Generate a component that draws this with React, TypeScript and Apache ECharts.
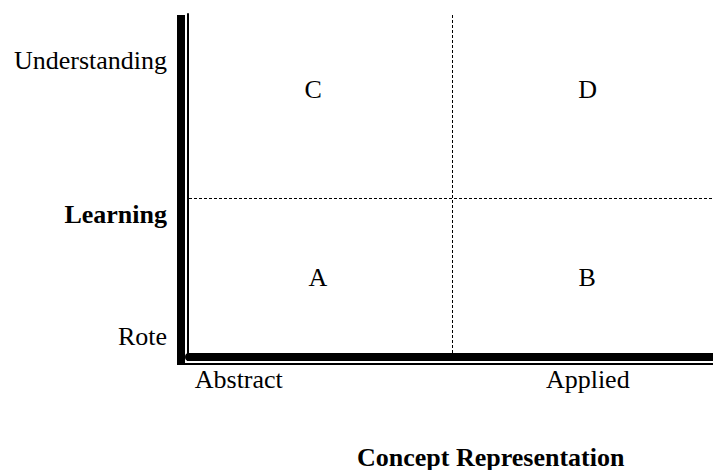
import React, { useEffect, useRef } from "react";
import * as echarts from "echarts";

// Quadrant letters and their positions (data units, 0-100 on both axes)
const quadrantLabels = ["C", "D", "A", "B"];
const quadrantX = [23.7, 76.1, 24.6, 76.0];
const quadrantY = [77.6, 77.6, 22.4, 22.4];

// Axis tick labels
const xTickLabels = ["Abstract", "Applied"];
const xTickValues = [9.5, 76.1];
const yTickLabels = ["Rote", "Learning", "Understanding"];
const yTickValues = [5.0, 41.0, 86.4];

// Dividers
const xDivider = 50.3;
const yDivider = 45.6;

const xTitle = "Concept Representation";

const FONT = '"Liberation Serif", "Times New Roman", Times, serif';

function findLabel(values: number[], labels: string[], v: number): string {
  for (let i = 0; i < values.length; i++) {
    if (Math.abs(values[i] - v) < 1e-6) return labels[i];
  }
  return "";
}

export default function App() {
  const ref = useRef<HTMLDivElement>(null);

  useEffect(() => {
    if (!ref.current) return;
    const chart = echarts.init(ref.current, null, { renderer: "svg" });
    const points = quadrantLabels.map((l, i) => [quadrantX[i], quadrantY[i], l]);

    chart.setOption({
      animation: false,
      backgroundColor: "#ffffff",
      title: {
        text: xTitle,
        left: 357,
        top: 444,
        padding: 0,
        textStyle: {
          fontFamily: FONT,
          fontSize: 26,
          fontWeight: "bold",
          color: "#000",
        },
      },
      grid: { left: 189, right: 0, top: 14, bottom: 117, containLabel: false },
      xAxis: {
        type: "value",
        min: 0,
        max: 100,
        offset: 4,
        axisLine: { show: true, onZero: false, lineStyle: { color: "#000", width: 8 } },
        axisTick: { show: false },
        splitLine: { show: false },
        axisLabel: {
          customValues: xTickValues,
          formatter: (v: number) => findLabel(xTickValues, xTickLabels, v),
          margin: 22,
          verticalAlign: "middle",
          fontFamily: FONT,
          fontSize: 26,
          color: "#000",
        },
      },
      yAxis: {
        type: "value",
        min: 0,
        max: 100,
        offset: 1,
        axisLine: { show: true, onZero: false, lineStyle: { color: "#000", width: 2 } },
        axisTick: { show: false },
        splitLine: { show: false },
        axisLabel: {
          customValues: yTickValues,
          formatter: (v: number) => {
            const t = findLabel(yTickValues, yTickLabels, v);
            return t === "Learning" ? "{b|" + t + "}" : t;
          },
          margin: 21,
          fontFamily: FONT,
          fontSize: 26,
          color: "#000",
          rich: {
            b: { fontFamily: FONT, fontSize: 26, fontWeight: "bold", color: "#000" },
          },
        },
      },
      graphic: [
        {
          type: "rect",
          silent: true,
          shape: { x: 177, y: 15, width: 8, height: 350 },
          style: { fill: "#000" },
        },
        {
          type: "rect",
          silent: true,
          shape: { x: 177, y: 363, width: 536, height: 2 },
          style: { fill: "#000" },
        },
        {
          type: "rect",
          silent: true,
          shape: { x: 187, y: 353, width: 4, height: 8 },
          style: { fill: "#000" },
        },
      ],
      series: [
        {
          type: "scatter",
          data: points,
          symbolSize: 0,
          itemStyle: { color: "#000", opacity: 1 },
          label: {
            show: true,
            position: "inside",
            formatter: (p: any) => p.data[2],
            fontFamily: FONT,
            fontSize: 26,
            color: "#000",
            opacity: 1,
          },
          markLine: {
            silent: true,
            symbol: "none",
            label: { show: false },
            lineStyle: { color: "#000", width: 1, type: [3, 2], opacity: 1 },
            data: [{ xAxis: xDivider }, { yAxis: yDivider }],
          },
        },
      ],
    });

    return () => chart.dispose();
  }, []);

  return (
    <div
      ref={ref}
      style={{ position: "fixed", left: 0, top: 0, width: 713, height: 470, background: "#fff" }}
    />
  );
}
